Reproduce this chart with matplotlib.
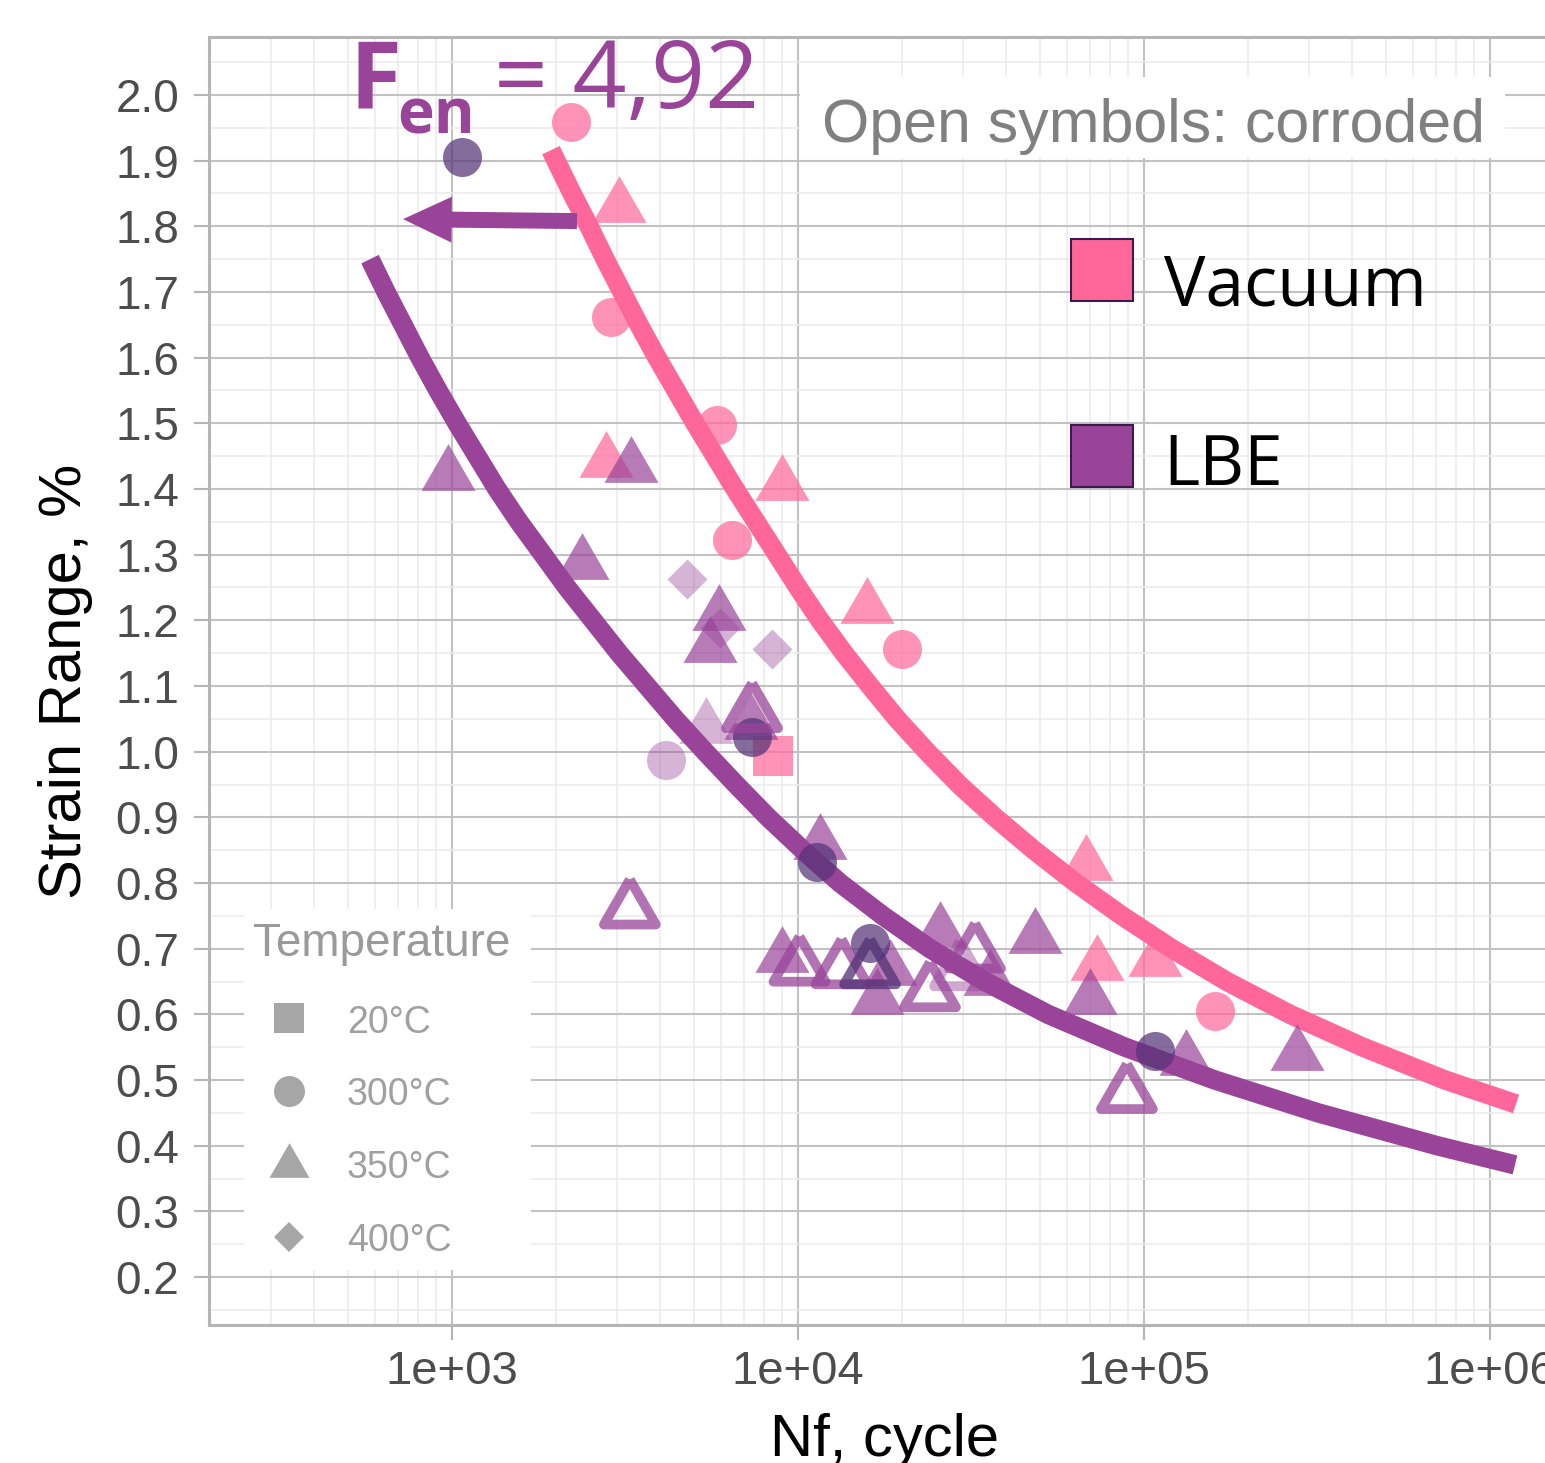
import numpy as np
import matplotlib.pyplot as plt
from matplotlib.lines import Line2D
from matplotlib.patches import Rectangle
from matplotlib.ticker import FixedLocator, MultipleLocator, LogLocator, NullFormatter, FuncFormatter

W, H = 1545, 1463

# Vacuum data (cycles, strain range %, temperature)
vac_n = [2208, 3040, 2884, 2782, 5823, 8975, 6430, 15820, 19940, 8492, 68100, 73300, 107700, 160200]
vac_s = [1.959, 1.842, 1.662, 1.453, 1.497, 1.419, 1.322, 1.231, 1.156, 0.994, 0.839, 0.688, 0.694, 0.605]
vac_temp = [300, 350, 300, 350, 300, 350, 300, 350, 300, 20, 350, 350, 350, 300]

# LBE data
lbe_n = [1067, 972, 3285, 2372, 4765, 5916, 5952, 5568, 8414, 7365, 7300, 5420, 4146, 7380,
         11600, 11320, 3266, 8975, 10100, 13360, 16150, 16150, 16880, 18450, 24070, 25730,
         29400, 32480, 35900, 48300, 70000, 107400, 132000, 89250, 276500]
lbe_s = [1.906, 1.434, 1.446, 1.298, 1.2625, 1.221, 1.188, 1.172, 1.156, 1.070, 1.055, 1.048, 0.987, 1.023,
         0.872, 0.8325, 0.771, 0.700, 0.684, 0.680, 0.680, 0.708, 0.636, 0.680, 0.645, 0.738,
         0.677, 0.704, 0.665, 0.7285, 0.636, 0.544, 0.543, 0.490, 0.551]
lbe_temp = [300, 350, 350, 350, 400, 350, 400, 350, 400, 350, 350, 350, 300, 300,
            350, 300, 350, 350, 350, 350, 350, 300, 350, 350, 350, 350,
            350, 350, 350, 350, 350, 300, 350, 350, 350]
lbe_group = ['dark', 'mid', 'mid', 'mid', 'light', 'mid', 'light', 'mid', 'light', 'mid', 'mid', 'light', 'light', 'dark',
             'mid', 'dark', 'mid', 'mid', 'mid', 'mid', 'dark', 'dark', 'mid', 'mid', 'mid', 'mid',
             'light', 'mid', 'mid', 'mid', 'mid', 'dark', 'mid', 'mid', 'mid']
lbe_corroded = [0, 0, 0, 0, 0, 0, 0, 0, 0, 1, 0, 0, 0, 0,
                0, 0, 1, 0, 1, 1, 1, 0, 0, 0, 1, 0,
                1, 1, 0, 0, 0, 0, 0, 1, 0]

# fitted curves
vac_fit_n = [1932, 1998, 2223, 2489, 2768, 3099, 3471, 3913, 4441, 5039, 5756, 6575, 7561, 8695,
             10000, 11576, 13582, 16150, 19323, 23598, 29195, 37101, 48094, 63620, 86400,
             120450, 173750, 264200, 429500, 741400, 1189000]
vac_fit_s = [1.916, 1.90, 1.85, 1.80, 1.75, 1.70, 1.65, 1.60, 1.55, 1.50, 1.45, 1.40, 1.35, 1.30,
             1.25, 1.20, 1.15, 1.10, 1.05, 1.00, 0.95, 0.90, 0.85, 0.80, 0.75,
             0.70, 0.65, 0.60, 0.55, 0.50, 0.4635]
lbe_fit_n = [579.5, 644.6, 721.8, 808.1, 911.2, 1034, 1181, 1349, 1562, 1833, 2149, 2556, 3038,
             3661, 4411, 5385, 6619, 8191, 10338, 13226, 17610, 24070, 34710, 52790, 88120,
             160300, 318400, 702800, 1181000]
lbe_fit_s = [1.75, 1.70, 1.65, 1.60, 1.55, 1.50, 1.45, 1.40, 1.35, 1.30, 1.25, 1.20, 1.15,
             1.10, 1.05, 1.00, 0.95, 0.90, 0.85, 0.80, 0.75, 0.70, 0.65, 0.60, 0.55,
             0.50, 0.45, 0.40, 0.3707]

temp_labels = ['20°C', '300°C', '350°C', '400°C']

PINK = '#ff6699'
PURPLE = '#994499'
TRI = [(0, 0.433), (-0.5, -0.433), (0.5, -0.433), (0, 0.433)]
shape = {20: 's', 300: 'o', 350: TRI, 400: 'D'}
size = {20: 870, 300: 790, 350: 1513, 400: 415}
shade = {'dark': ('#553377', 0.72), 'mid': (PURPLE, 0.7), 'light': (PURPLE, 0.4)}


def fx(px):
    return px / W


def fy(py):
    return 1 - py / H


fig = plt.figure(figsize=(W / 100, H / 100), dpi=100)
ax = fig.add_axes([fx(209), fy(1325), (1560 - 209) / W, (1325 - 37) / H])

ax.set_xscale('log')
ax.set_xlim(10 ** (3 - (452 - 209) / 346), 10 ** (3 + (1560 - 452) / 346))
ax.set_ylim(0.2 - 48 / 656.7, 2.0 + 58 / 656.7)

# fitted curves
ax.plot(vac_fit_n, vac_fit_s, color=PINK, lw=14, solid_capstyle='butt', solid_joinstyle='round', zorder=2)
ax.plot(lbe_fit_n, lbe_fit_s, color=PURPLE, lw=14, solid_capstyle='butt', solid_joinstyle='round', zorder=2)

# vacuum points
vn, vs, vt = np.array(vac_n), np.array(vac_s), np.array(vac_temp)
for t in [20, 300, 350, 400]:
    m = vt == t
    if m.any():
        ax.scatter(vn[m], vs[m], marker=shape[t], s=size[t], color=PINK, alpha=0.7,
                   linewidths=0, zorder=3)

# LBE points
ln, ls, lt = np.array(lbe_n), np.array(lbe_s), np.array(lbe_temp)
lg, lc = np.array(lbe_group), np.array(lbe_corroded)
for g in ['light', 'mid', 'dark']:
    col, a = shade[g]
    for t in [20, 300, 350, 400]:
        m = (lg == g) & (lt == t) & (lc == 0)
        if m.any():
            ax.scatter(ln[m], ls[m], marker=shape[t], s=size[t], color=col, alpha=a,
                       linewidths=0, zorder=3)
        m = (lg == g) & (lt == t) & (lc == 1)
        if m.any():
            sc = ax.scatter(ln[m], ls[m], marker=shape[t], s=1400, facecolors='none',
                            edgecolors=col, alpha=a + 0.05, linewidths=7, zorder=4)
            sc.set_joinstyle('round')

# arrow
ax.annotate('', xy=(722, 1.811), xytext=(2297, 1.808),
            arrowprops=dict(arrowstyle='simple,head_length=3.5,head_width=3.3,tail_width=1.15',
                            mutation_scale=10, color=PURPLE, lw=0, shrinkA=0, shrinkB=0),
            zorder=5)

# axes styling
ax.xaxis.set_major_locator(FixedLocator([1e3, 1e4, 1e5, 1e6]))
ax.xaxis.set_major_formatter(FuncFormatter(lambda v, p: '{:.0e}'.format(v)))
ax.xaxis.set_minor_locator(LogLocator(base=10, subs=range(2, 10), numticks=20))
ax.xaxis.set_minor_formatter(NullFormatter())
ax.yaxis.set_major_locator(MultipleLocator(0.1))
ax.yaxis.set_major_formatter(FuncFormatter(lambda v, p: '%.1f' % v))
ax.yaxis.set_minor_locator(MultipleLocator(0.05))

ax.grid(which='major', color='#c2c2c2', lw=1.5)
ax.grid(which='minor', color='#ebebeb', lw=1.1)
ax.set_axisbelow(True)
for sp in ax.spines.values():
    sp.set_color('#b5b5b5')
    sp.set_linewidth(2.2)
ax.tick_params(which='major', length=10.8, width=1.5, color='#b5b5b5', pad=10.5)
ax.tick_params(which='minor', length=0)
ax.tick_params(axis='x', labelsize=34, labelcolor='#4d4d4d', pad=7)
ax.tick_params(axis='y', labelsize=33, labelcolor='#4d4d4d')
for lab in ax.get_xticklabels() + ax.get_yticklabels():
    lab.set_family('Liberation Sans')

ax.set_xlabel('Nf, cycle', fontsize=43, family='Liberation Sans', color='black')
ax.xaxis.set_label_coords(0.5, (1325 - 1456) / 1288)
ax.xaxis.label.set_verticalalignment('baseline')
ax.set_ylabel('Strain Range, %', fontsize=43, family='Liberation Sans', color='black')
ax.yaxis.set_label_coords((66 - 209) / 1351, 0.5)
ax.yaxis.label.set_verticalalignment('center')

# F_en annotation
fig.text(fx(350), fy(108), 'F', fontsize=68, fontweight='bold', family='Open Sans',
         color=PURPLE, va='baseline')
fig.text(fx(397), fy(133), 'en', fontsize=45, fontweight='bold', family='Open Sans',
         color=PURPLE, va='baseline')
fig.text(fx(494), fy(108), '= 4,92', fontsize=68, family='Open Sans',
         color=PURPLE, va='baseline')

# "Open symbols" note
fig.add_artist(Rectangle((fx(800), fy(158)), (1505 - 800) / W, (158 - 77) / H,
                         transform=fig.transFigure, facecolor='white', edgecolor='none'))
fig.text(fx(822), fy(142), 'Open symbols: corroded', fontsize=43.8, family='Liberation Sans',
         color='#808080', va='baseline')

# environment legend
for (y0, col) in [(239, PINK), (425, PURPLE)]:
    fig.add_artist(Rectangle((fx(1071), fy(y0 + 62)), 62 / W, 62 / H, transform=fig.transFigure,
                             facecolor=col, edgecolor='#3d1a4d', lw=1.5))
fig.text(fx(1164), fy(305), 'Vacuum', fontsize=50, family='Open Sans', color='black', va='baseline')
fig.text(fx(1163), fy(485), 'LBE', fontsize=50, family='Open Sans', color='black', va='baseline')

# temperature legend
fig.add_artist(Rectangle((fx(244), fy(1270)), (531 - 244) / W, (1270 - 909) / H,
                         transform=fig.transFigure, facecolor='white', edgecolor='none'))
fig.text(fx(253), fy(956), 'Temperature', fontsize=33, family='Liberation Sans',
         color='#9a9a9a', va='baseline')
leg_y = [1018, 1091, 1160, 1237]
leg_base = [1033, 1105, 1178, 1251]
leg_mk = [('s', 22.3), ('o', 22.3), (TRI, 28.8), ('D', 15.3)]
for i, lab in enumerate(temp_labels):
    mk, ms = leg_mk[i]
    fig.add_artist(Line2D([fx(288.5)], [fy(leg_y[i])], marker=mk, ms=ms, color='#a6a6a6',
                          markeredgewidth=0, transform=fig.transFigure))
    fig.text(fx(347), fy(leg_base[i]), lab, fontsize=27, family='Liberation Sans',
             color='#a0a0a0', va='baseline')

fig.savefig('out.png', dpi=100)
